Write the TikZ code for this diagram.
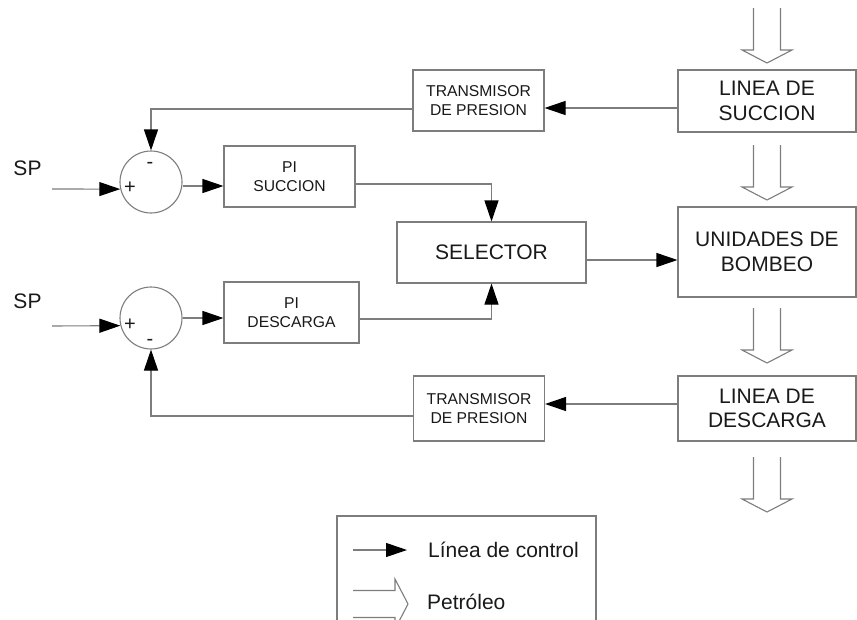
\documentclass[tikz,border=0pt]{standalone}
\usepackage{fontspec}
\setmainfont{Liberation Sans}
\usepackage{tikz}
\usetikzlibrary{arrows.meta}

\definecolor{linea}{RGB}{125,125,125}
\definecolor{texto}{RGB}{25,25,25}

\tikzset{
	bloque/.style={draw=linea,line width=1.1pt,text=texto,align=center,inner sep=0pt,
		font=\fontsize{21}{24.5}\selectfont},
	bloque chico/.style={bloque,font=\fontsize{15.7}{19.5}\selectfont},
	suma/.style={circle,draw=linea,line width=1.1pt,minimum size=62pt,inner sep=0pt},
	signo/.style={text=texto,inner sep=0pt,font=\fontsize{20}{22}\selectfont},
	etiqueta/.style={text=texto,inner sep=0pt,font=\fontsize{21}{24}\selectfont},
	control/.style={draw=linea,line width=1.1pt,-{Triangle[length=21pt,width=14pt,color=black]}},
	petro/.pic={
		\draw[linea,line width=1.1pt] (-13.5,0) -- (-13.5,42) -- (-25,42) -- (0,55) -- (25,42) -- (13.5,42) -- (13.5,0);
	}
}

\begin{document}
\begin{tikzpicture}[x=1pt,y=-1pt]
\useasboundingbox (0,0) rectangle (857,619);
% linea de proceso
\node[bloque,minimum width=178pt,minimum height=62pt] (lsuc) at (767,101) {LINEA DE\\SUCCION};
\node[bloque,minimum width=178pt,minimum height=90pt] (unid) at (767,252) {UNIDADES DE\\BOMBEO};
\node[bloque,minimum width=178pt,minimum height=65pt] (ldes) at (767,408.5) {LINEA DE\\DESCARGA};
\pic at (767,8) {petro};
\pic at (767,145) {petro};
\pic at (767,308) {petro};
\pic at (767,457) {petro};
% transmisores
\node[bloque chico,minimum width=131pt,minimum height=61pt] (tps) at (478.5,100.5) {TRANSMISOR\\DE PRESION};
\node[bloque chico,minimum width=131pt,minimum height=65pt] (tpd) at (479,408.5) {TRANSMISOR\\DE PRESION};
% controladores y selector
\node[bloque chico,minimum width=131pt,minimum height=61pt] (pis) at (289.5,176.5) {PI\\SUCCION};
\node[bloque chico,minimum width=135pt,minimum height=61pt] (pid) at (291.5,312.5) {PI\\DESCARGA};
\node[bloque,minimum width=189pt,minimum height=61pt] (sel) at (491.5,252.5) {SELECTOR};
% sumadores
\node[suma] (s1) at (151,182) {};
\node[suma] (s2) at (151,318) {};
\node[signo] at (130,188) {+};
\node[signo] at (150,165) {-};
\node[signo] at (130,325) {+};
\node[signo] at (150,342) {-};
\node[etiqueta] (sp1) at (27.5,168.5) {SP};
\node[etiqueta] (sp2) at (27.5,301.5) {SP};
\coordinate (e1) at (52,189);
\coordinate (e2) at (52,326);
% lazos de control
\draw[control] (e1) -- (s1.193);
\draw[control] (e2) -- (s2.194);
\draw[control] ([yshift=-4pt]s1.east) -- ([yshift=-4pt]s1.east -| pis.west);
\draw[control] (s2.east) -- (s2.east -| pid.west);
\draw[control] ([yshift=-7.5pt]pis.east) -| (sel.north);
\draw[control] ([yshift=-6.5pt]pid.east) -| (sel.south);
\draw[control] ([yshift=-7.5pt]sel.east) -- ([yshift=-7.5pt]sel.east -| unid.west);
\draw[control] ([yshift=-7pt]lsuc.west) -- ([yshift=-7pt]lsuc.west -| tps.east);
\draw[control] ([yshift=-8.5pt]tps.west) -| (s1.north);
\draw[control] ([yshift=4.5pt]ldes.west) -- ([yshift=4.5pt]ldes.west -| tpd.east);
\draw[control] ([yshift=-7.5pt]tpd.west) -| (s2.south);
% leyenda
\draw[linea,line width=1.1pt] (337,640) -- (337,516) -- (596,516) -- (596,640);
\coordinate (l1) at (353,550);
\coordinate (l2) at (407,550);
\draw[control] (l1) -- (l2);
\node[etiqueta,anchor=west] (lc) at (428,550) {Línea de control};
\pic[rotate=90] at (353,604) {petro};
\node[etiqueta,anchor=west] (lp) at (427,602) {Petróleo};
\end{tikzpicture}
\end{document}
